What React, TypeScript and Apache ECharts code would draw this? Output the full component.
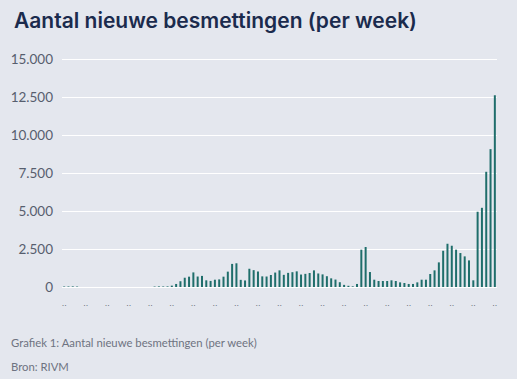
import React, { useEffect, useRef } from "react";
import * as echarts from "echarts";

const titleText = "Aantal nieuwe besmettingen (per week)";
const captionText = "Grafiek 1: Aantal nieuwe besmettingen (per week)";
const sourceText = "Bron: RIVM";

const weekValues: number[] = [
  40, 35, 40, 30, 0, 0, 0, 0, 0, 0,
  0, 0, 0, 0, 0, 0, 0, 0, 0, 0,
  0, 30, 40, 35, 40, 90, 200, 380, 610, 680,
  960, 690, 730, 440, 400, 480, 500, 680, 1010, 1520,
  1560, 470, 430, 1200, 1110, 1020, 700, 690, 790, 950,
  1095, 800, 930, 975, 1030, 820, 865, 920, 1095, 890,
  830, 710, 570, 490, 315, 140, 80, 45, 200, 2455,
  2630, 985, 480, 395, 395, 395, 440, 395, 305, 265,
  200, 200, 305, 480, 480, 855, 1095, 1620, 2385, 2845,
  2715, 2455, 2235, 2015, 1750, 440, 4950, 5210, 7580, 9070,
  12615,
];

const weekLabels: string[] = weekValues.map((_, i) => `Week ${i + 1}`);

const yTicks = { min: 0, max: 15000, interval: 2500 };

function fmt(v: number): string {
  return String(Math.round(v)).replace(/\B(?=(\d{3})+(?!\d))/g, ".");
}

export default function App() {
  const ref = useRef<HTMLDivElement>(null);
  useEffect(() => {
    if (!ref.current) return;
    const chart = echarts.init(ref.current, undefined, { renderer: "svg" });
    chart.setOption({
      animation: false,
      backgroundColor: "#e4e7ee",
      title: {
        text: titleText,
        left: 9,
        top: 5,
        textStyle: {
          fontFamily: "Inter",
          fontWeight: 600,
          fontSize: 21,
          color: "#1b2b4d",
        },
      },
      graphic: [
        {
          type: "text",
          left: 11,
          top: 337,
          style: {
            text: captionText,
            fontFamily: "Lato",
            fontSize: 11.3,
            fill: "#6e7381",
          },
        },
        {
          type: "text",
          left: 11,
          top: 361,
          style: {
            text: sourceText,
            fontFamily: "Lato",
            fontSize: 11.3,
            fill: "#6e7381",
          },
        },
      ],
      grid: { left: 62, right: 20, top: 59, bottom: 92, containLabel: false },
      xAxis: {
        type: "category",
        data: weekLabels,
        boundaryGap: true,
        axisLine: { show: false },
        axisTick: { show: false },
        axisLabel: {
          interval: 4,
          formatter: () => "..",
          color: "#6e7381",
          fontSize: 9,
          margin: 11,
        },
      },
      yAxis: {
        type: "value",
        min: yTicks.min,
        max: yTicks.max,
        interval: yTicks.interval,
        axisLine: { show: false },
        axisTick: { show: false },
        splitLine: { lineStyle: { color: "#ffffff", width: 1.2 } },
        axisLabel: {
          formatter: (v: number) => fmt(v),
          color: "#575e6e",
          fontFamily: "Lato",
          fontSize: 13.5,
          margin: 9,
        },
      },
      series: [
        {
          type: "bar",
          data: weekValues,
          barWidth: 2,
          itemStyle: { color: "#1f6e6b" },
        },
      ],
    });
    return () => chart.dispose();
  }, []);
  return (
    <div
      ref={ref}
      style={{ position: "absolute", left: 0, top: 0, width: 517, height: 379 }}
    />
  );
}
